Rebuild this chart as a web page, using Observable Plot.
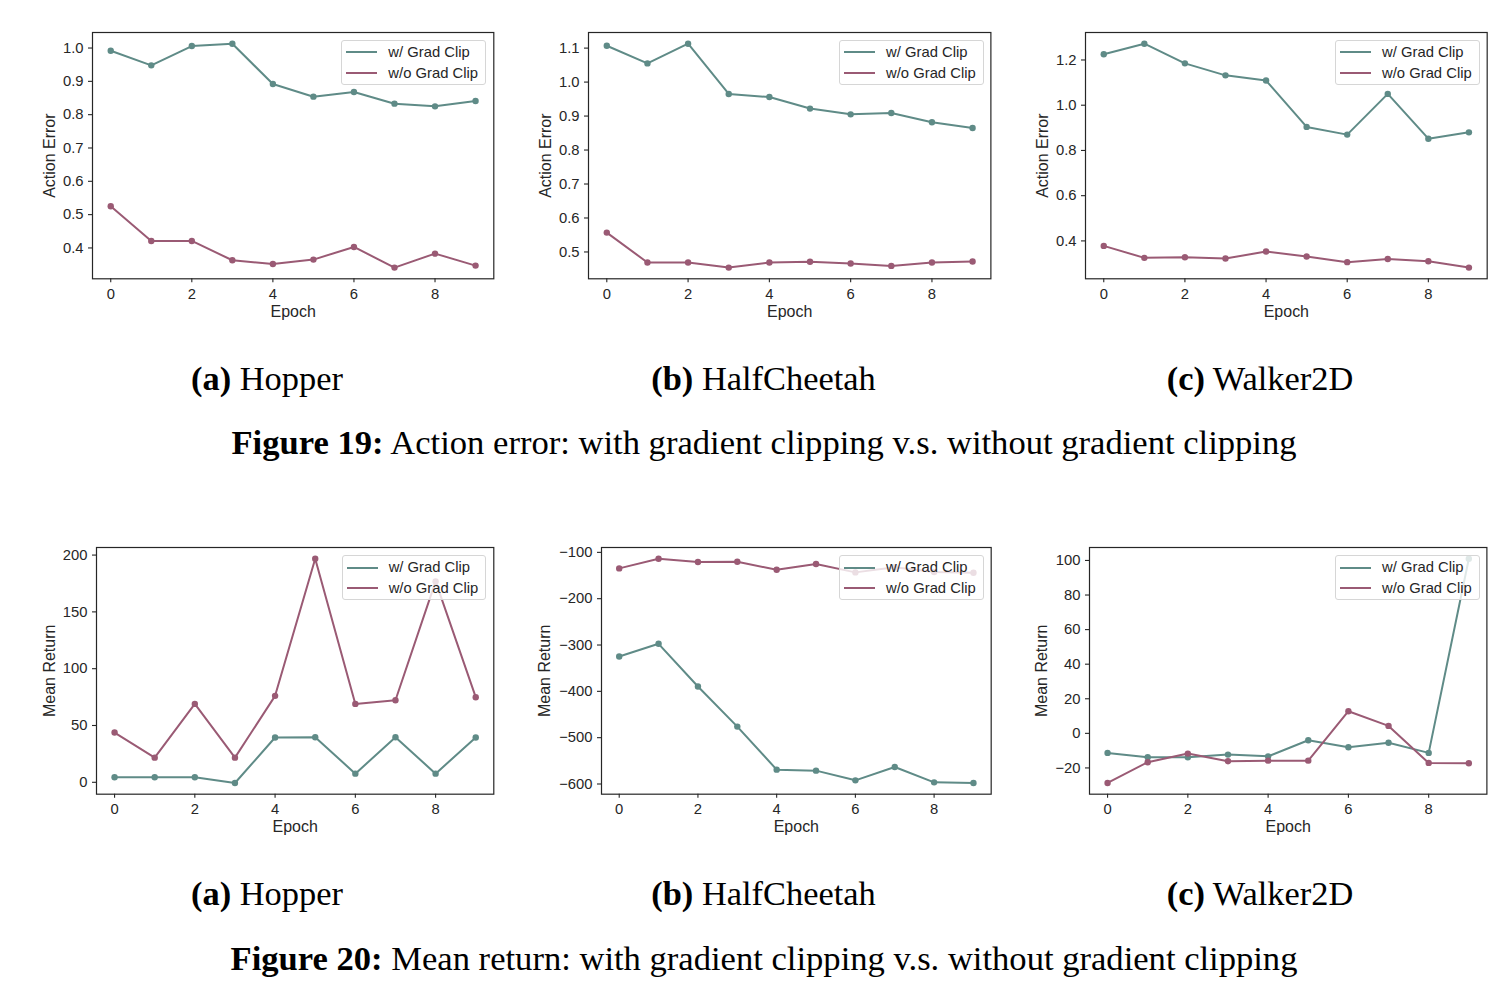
<!DOCTYPE html>
<html>
<head>
<meta charset="utf-8">
<script src="https://cdn.jsdelivr.net/npm/d3@7"></script>
<script src="https://cdn.jsdelivr.net/npm/@observablehq/plot@0.6"></script>
<style>
  body { margin: 0; background: #fff; }
  #root { position: relative; width: 1510px; height: 998px; overflow: hidden; background: #fff; }
  .panel { position: absolute; }
  .legend {
    position: absolute;
    background: rgba(255,255,255,0.8);
    border: 1px solid #d6d6d6;
    border-radius: 3px;
    padding: 1px 7px 1px 4px;
    font-family: "Liberation Sans", Arial, sans-serif;
    font-size: 14.8px;
    color: #262626;
  }
  .legend .row { height: 20.6px; line-height: 20.6px; white-space: nowrap; display: flex; align-items: center; }
  .legend .swatch { display: inline-block; width: 31px; height: 0; border-top: 2px solid; margin-right: 11px; }
  .cap {
    position: absolute;
    transform: translate(-50%, -50%);
    white-space: nowrap;
    font-family: "Liberation Serif", "Times New Roman", serif;
    color: #000;
  }
  .sub { font-size: 34.4px; }
  .fig { font-size: 34.6px; }
</style>
</head>
<body>
<div id="root"></div>
<script>
// ---------- data ----------
const epochs = [0, 1, 2, 3, 4, 5, 6, 7, 8, 9];
const seriesNames = ["w/ Grad Clip", "w/o Grad Clip"];
const seriesColors = ["#5f8b87", "#9a5a74"];
const xTicks = [0, 2, 4, 6, 8];

// Figure 19: action error
const hopperErrClip    = [0.992, 0.948, 1.006, 1.013, 0.892, 0.854, 0.868, 0.833, 0.825, 0.841];
const hopperErrNoClip  = [0.525, 0.421, 0.421, 0.363, 0.352, 0.365, 0.403, 0.341, 0.383, 0.347];
const cheetahErrClip   = [1.107, 1.055, 1.113, 0.965, 0.956, 0.922, 0.905, 0.909, 0.882, 0.865];
const cheetahErrNoClip = [0.557, 0.469, 0.469, 0.454, 0.469, 0.471, 0.466, 0.459, 0.469, 0.472];
const walkerErrClip    = [1.225, 1.272, 1.185, 1.132, 1.109, 0.904, 0.870, 1.050, 0.852, 0.880];
const walkerErrNoClip  = [0.378, 0.325, 0.328, 0.322, 0.353, 0.331, 0.306, 0.320, 0.310, 0.282];

// Figure 20: mean return
const hopperRetClip    = [4.4, 4.4, 4.4, -0.6, 39.4, 39.6, 7.6, 39.6, 7.6, 39.4];
const hopperRetNoClip  = [43.8, 21.7, 69.0, 21.7, 76.1, 196.8, 69.0, 72.2, 176.8, 74.9];
const cheetahRetClip   = [-324.8, -297.4, -389.6, -476.1, -569.0, -571.2, -592.1, -563.3, -596.4, -597.8];
const cheetahRetNoClip = [-134.6, -113.7, -120.9, -120.2, -137.5, -125.2, -143.2, -132.0, -142.5, -144.0];
const walkerRetClip    = [-11.3, -13.8, -13.8, -12.3, -13.3, -4.0, -8.0, -5.4, -11.3, 101.0];
const walkerRetNoClip  = [-28.7, -16.7, -11.7, -16.1, -15.8, -15.8, 12.8, 4.3, -17.1, -17.3];

// tick labels
const hopperErrTicks  = [0.4, 0.5, 0.6, 0.7, 0.8, 0.9, 1.0];
const cheetahErrTicks = [0.5, 0.6, 0.7, 0.8, 0.9, 1.0, 1.1];
const walkerErrTicks  = [0.4, 0.6, 0.8, 1.0, 1.2];
const hopperRetTicks  = [0, 50, 100, 150, 200];
const cheetahRetTicks = [-600, -500, -400, -300, -200, -100];
const walkerRetTicks  = [-20, 0, 20, 40, 60, 80, 100];

const envNames = ["(a)", "(b)", "(c)"];
const envTitles = ["Hopper", "HalfCheetah", "Walker2D"];
const fig19Label = "Figure 19:";
const fig19Text = " Action error: with gradient clipping v.s. without gradient clipping";
const fig20Label = "Figure 20:";
const fig20Text = " Mean return: with gradient clipping v.s. without gradient clipping";

// ---------- layout ----------
const panels = [
  {clip: hopperErrClip,  noclip: hopperErrNoClip,  ticks: hopperErrTicks,  fmt: d3.format(".1f"), ylabel: "Action Error", left: 91.7,  top: 32,    w: 401.3, h: 246.3, labOff: 49},
  {clip: cheetahErrClip, noclip: cheetahErrNoClip, ticks: cheetahErrTicks, fmt: d3.format(".1f"), ylabel: "Action Error", left: 588.3, top: 32,    w: 402.4, h: 246.3, labOff: 49.3},
  {clip: walkerErrClip,  noclip: walkerErrNoClip,  ticks: walkerErrTicks,  fmt: d3.format(".1f"), ylabel: "Action Error", left: 1085,  top: 32,    w: 401.7, h: 246.3, labOff: 49},
  {clip: hopperRetClip,  noclip: hopperRetNoClip,  ticks: hopperRetTicks,  fmt: d3.format("d"),   ylabel: "Mean Return",  left: 96,    top: 547.3, w: 397.3, h: 246.7, labOff: 53.3},
  {clip: cheetahRetClip, noclip: cheetahRetNoClip, ticks: cheetahRetTicks, fmt: d3.format("d"),   ylabel: "Mean Return",  left: 601,   top: 547.3, w: 389.7, h: 246.7, labOff: 62.7},
  {clip: walkerRetClip,  noclip: walkerRetNoClip,  ticks: walkerRetTicks,  fmt: d3.format("d"),   ylabel: "Mean Return",  left: 1089.3,top: 547.3, w: 397.4, h: 246.7, labOff: 54.3}
];

const root = document.getElementById("root");
const ML = 80, MR = 12, MT = 12, MB = 56;
const INK = "#262626";

panels.forEach(cfg => {
  const rowsClip = epochs.map((e, i) => ({epoch: e, value: cfg.clip[i], s: seriesNames[0]}));
  const rowsNo = epochs.map((e, i) => ({epoch: e, value: cfg.noclip[i], s: seriesNames[1]}));
  const [ymin, ymax] = d3.extent(cfg.clip.concat(cfg.noclip));
  const ypad = (ymax - ymin) * 0.05;
  const [xmin, xmax] = d3.extent(epochs);
  const xpad = (xmax - xmin) * 0.05;

  const svg = Plot.plot({
    width: cfg.w + ML + MR,
    height: cfg.h + MT + MB,
    marginLeft: ML, marginRight: MR, marginTop: MT, marginBottom: MB,
    style: {fontFamily: "'Liberation Sans', Arial, sans-serif", fontSize: "14.8px", color: INK, background: "transparent", overflow: "visible"},
    x: {domain: [xmin - xpad, xmax + xpad]},
    y: {domain: [ymin - ypad, ymax + ypad]},
    color: {domain: seriesNames, range: seriesColors},
    marks: [
      Plot.axisX({ticks: xTicks, tickSize: 4, tickPadding: 5.5, tickFormat: d3.format("d"), label: null, fontSize: 14.8, strokeWidth: 1.1}),
      Plot.axisX({ticks: [], tickSize: 0, label: "Epoch", labelArrow: "none", labelAnchor: "center", labelOffset: 38, fontSize: 16}),
      Plot.axisY({ticks: cfg.ticks, tickSize: 4, tickPadding: 5, tickFormat: cfg.fmt, label: null, fontSize: 14.8, strokeWidth: 1.1}),
      Plot.axisY({ticks: [], tickSize: 0, label: cfg.ylabel, labelArrow: "none", labelAnchor: "center", labelOffset: cfg.labOff, fontSize: 16}),
      Plot.line(rowsClip, {x: "epoch", y: "value", stroke: "s", strokeWidth: 2}),
      Plot.dot(rowsClip, {x: "epoch", y: "value", fill: "s", r: 3.2}),
      Plot.line(rowsNo, {x: "epoch", y: "value", stroke: "s", strokeWidth: 2}),
      Plot.dot(rowsNo, {x: "epoch", y: "value", fill: "s", r: 3.2}),
      Plot.frame({stroke: INK, strokeWidth: 1.2})
    ]
  });
  svg.classList.add("panel");
  svg.style.left = (cfg.left - ML) + "px";
  svg.style.top = (cfg.top - MT) + "px";
  root.appendChild(svg);

  // legend
  const lg = document.createElement("div");
  lg.className = "legend";
  lg.style.right = (1510 - (cfg.left + cfg.w - 7)) + "px";
  lg.style.top = (cfg.top + 8) + "px";
  seriesNames.forEach((n, i) => {
    const r = document.createElement("div");
    r.className = "row";
    const sw = document.createElement("span");
    sw.className = "swatch";
    sw.style.borderTopColor = seriesColors[i];
    r.appendChild(sw);
    r.appendChild(document.createTextNode(n));
    lg.appendChild(r);
  });
  root.appendChild(lg);
});

// captions
const colCenters = [267, 763.5, 1260];
[378, 893].forEach(y => {
  envNames.forEach((tag, i) => {
    const d = document.createElement("div");
    d.className = "cap sub";
    d.style.left = colCenters[i] + "px";
    d.style.top = y + "px";
    const b = document.createElement("b");
    b.textContent = tag;
    d.appendChild(b);
    d.appendChild(document.createTextNode(" " + envTitles[i]));
    root.appendChild(d);
  });
});
[[442, fig19Label, fig19Text], [958, fig20Label, fig20Text]].forEach(([y, lab, txt]) => {
  const d = document.createElement("div");
  d.className = "cap fig";
  d.style.left = "764px";
  d.style.top = y + "px";
  const b = document.createElement("b");
  b.textContent = lab;
  d.appendChild(b);
  d.appendChild(document.createTextNode(txt));
  root.appendChild(d);
});
</script>
</body>
</html>
